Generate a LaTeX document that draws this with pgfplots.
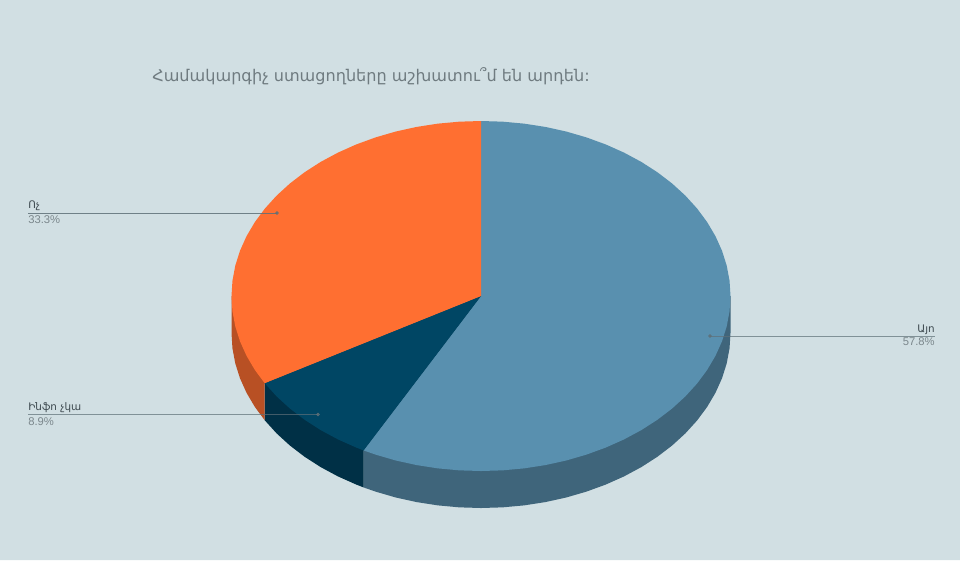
\documentclass[border=0pt]{standalone}
\usepackage{pgfplots}
\pgfplotsset{compat=1.18}
\usepackage{fontspec}
\setmainfont{Liberation Sans}
\newfontfamily\armfont{DejaVu Sans}
\definecolor{bgc}{HTML}{D1DFE3}
\definecolor{yesc}{HTML}{5990AF}
\definecolor{yesd}{HTML}{3F657B}
\definecolor{infoc}{HTML}{004664}
\definecolor{infod}{HTML}{003046}
\definecolor{noc}{HTML}{FF6F31}
\definecolor{nod}{HTML}{B85024}
\definecolor{titlec}{HTML}{6F7B80}
\definecolor{pctc}{HTML}{7B878C}
\definecolor{namec}{HTML}{3E4A50}
\definecolor{leadc}{HTML}{5F7078}
\begin{document}
\begin{tikzpicture}
\begin{axis}[
  scale only axis, width=24cm, height=14cm,
  xmin=0, xmax=960, ymin=0, ymax=560, y dir=reverse,
  hide axis,
]
  % background
  \addplot[draw=none, fill=bgc] coordinates {(0,0)(960,0)(960,560)(0,560)} \closedcycle;

  % side walls, 37 px deep
  \addplot[draw=none, fill=yesd] coordinates {(481,296)(730.5,296)(730.5,333)(729.55,348.25)(726.71,363.39)(722,378.29)(715.45,392.85)(707.12,406.96)(697.07,420.5)(685.38,433.38)(672.13,445.49)(657.42,456.74)(641.38,467.06)(624.11,476.35)(605.75,484.55)(586.44,491.6)(566.33,497.45)(545.58,502.04)(524.33,505.34)(502.75,507.33)(481,508)(459.25,507.33)(437.67,505.34)(416.42,502.04)(395.67,497.45)(375.56,491.6)(363.56,487.4)(363.56,450.4)} -- cycle;
  \addplot[draw=none, fill=infod] coordinates {(481,296)(363.56,450.4)(363.56,487.4)(356.25,484.55)(337.89,476.35)(320.62,467.06)(304.58,456.74)(289.87,445.49)(276.62,433.38)(264.93,420.5)(264.67,420.18)(264.67,383.18)} -- cycle;
  \addplot[draw=none, fill=nod] coordinates {(481,296)(264.67,383.18)(264.67,420.18)(254.88,406.96)(246.55,392.85)(240,378.29)(235.29,363.39)(232.45,348.25)(231.5,333)(231.5,296)} -- cycle;

  % top faces: 57.8, 8.9, 33.3 percent
  \addplot[draw=none, fill=yesc] coordinates {(481,296)(481,121)(502.75,121.67)(524.33,123.66)(545.58,126.96)(566.33,131.55)(586.44,137.4)(605.75,144.45)(624.11,152.65)(641.38,161.94)(657.42,172.26)(672.13,183.51)(685.38,195.62)(697.07,208.5)(707.12,222.04)(715.45,236.15)(722,250.71)(726.71,265.61)(729.55,280.75)(730.5,296)(729.55,311.25)(726.71,326.39)(722,341.29)(715.45,355.85)(707.12,369.96)(697.07,383.5)(685.38,396.38)(672.13,408.49)(657.42,419.74)(641.38,430.06)(624.11,439.35)(605.75,447.55)(586.44,454.6)(566.33,460.45)(545.58,465.04)(524.33,468.34)(502.75,470.33)(481,471)(459.25,470.33)(437.67,468.34)(416.42,465.04)(395.67,460.45)(375.56,454.6)(363.56,450.4)} -- cycle;
  \addplot[draw=none, fill=infoc] coordinates {(481,296)(363.56,450.4)(356.25,447.55)(337.89,439.35)(320.62,430.06)(304.58,419.74)(289.87,408.49)(276.62,396.38)(264.93,383.5)(264.67,383.18)} -- cycle;
  \addplot[draw=none, fill=noc] coordinates {(481,296)(264.67,383.18)(254.88,369.96)(246.55,355.85)(240,341.29)(235.29,326.39)(232.45,311.25)(231.5,296)(232.45,280.75)(235.29,265.61)(240,250.71)(246.55,236.15)(254.88,222.04)(264.93,208.5)(276.62,195.62)(289.87,183.51)(304.58,172.26)(320.62,161.94)(337.89,152.65)(356.25,144.45)(375.56,137.4)(395.67,131.55)(416.42,126.96)(437.67,123.66)(459.25,121.67)(481,121)} -- cycle;

  % leader lines, small dot where they end on the slice
  \addplot[leadc, line width=0.7pt, opacity=0.85] coordinates {(28,213)(277,213)};
  \addplot[leadc, line width=0.7pt, opacity=0.7] coordinates {(28,414.5)(318,414.5)};
  \addplot[leadc, line width=0.7pt, opacity=0.7] coordinates {(710,336)(935,336)};
  \addplot[only marks, mark=*, mark size=1.1pt, leadc, opacity=0.8] coordinates {(277,213)(318,414.5)(710,336)};

  \node[anchor=west, inner sep=0pt, text=titlec, font=\armfont\fontsize{11.45}{14}\selectfont] at (axis cs:152,76) {Համակարգիչ ստացողները աշխատու՞մ են արդեն:};

  \node[anchor=south west, inner sep=0pt, text=namec, font=\armfont\fontsize{7.4}{9}\selectfont] at (axis cs:28,211) {Ոչ};
  \node[anchor=north west, inner sep=0pt, text=pctc, font=\fontsize{8}{9}\selectfont] at (axis cs:28,215) {33.3\%};
  \node[anchor=south west, inner sep=0pt, text=namec, font=\armfont\fontsize{7.4}{9}\selectfont] at (axis cs:28,413) {Ինֆո չկա};
  \node[anchor=north west, inner sep=0pt, text=pctc, font=\fontsize{8}{9}\selectfont] at (axis cs:28,417) {8.9\%};
  \node[anchor=south east, inner sep=0pt, text=namec, font=\armfont\fontsize{7.4}{9}\selectfont] at (axis cs:935,334.5) {Այո};
  \node[anchor=north east, inner sep=0pt, text=pctc, font=\fontsize{8}{9}\selectfont] at (axis cs:935,337.5) {57.8\%};
\end{axis}
\end{tikzpicture}
\end{document}
